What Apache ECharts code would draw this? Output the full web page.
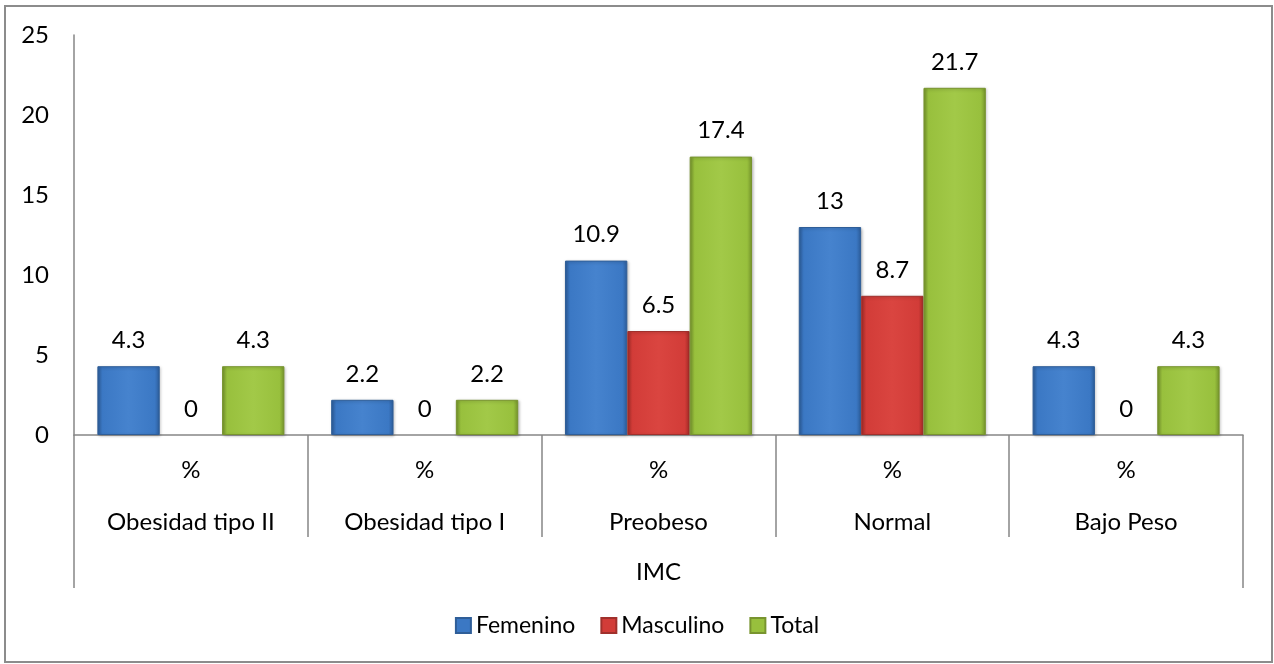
<!DOCTYPE html>
<html>
<head>
<meta charset="utf-8">
<script src="https://cdn.jsdelivr.net/npm/echarts@6/dist/echarts.min.js"></script>
<style>
html,body{margin:0;padding:0;background:#fff;}
#c{width:1274px;height:664px;}
</style>
</head>
<body>
<div id="c"></div>
<script>
const categories = ['Obesidad tipo II', 'Obesidad tipo I', 'Preobeso', 'Normal', 'Bajo Peso'];
const subLabel = '%';
const groupLabel = 'IMC';
const femenino = [4.3, 2.2, 10.9, 13, 4.3];
const masculino = [0, 0, 6.5, 8.7, 0];
const total = [4.3, 2.2, 17.4, 21.7, 4.3];
const yTicks = [0, 25, 5];

const FONT = 'Lato';
const FS = 24;
const AX = '#868686';

function grad(dark, mid, light) {
  return new echarts.graphic.LinearGradient(0, 0, 1, 0, [
    {offset: 0, color: dark},
    {offset: 0.08, color: mid},
    {offset: 0.5, color: light},
    {offset: 0.92, color: mid},
    {offset: 1, color: dark}
  ]);
}
const cols = [
  {dark: '#2D5E9C', mid: '#3B78C4', light: '#4683CE', border: '#2F5E98'},
  {dark: '#A52B28', mid: '#D23C38', light: '#DA4540', border: '#A0302C'},
  {dark: '#76952C', mid: '#98C03D', light: '#A2C948', border: '#78942F'}
];

function mk(name, data, c) {
  return {
    name: name, type: 'bar', barGap: '0%', barCategoryGap: '20%',
    data: data.map(v => v === 0
      ? {value: v, itemStyle: {borderWidth: 0, shadowBlur: 0, shadowOffsetX: 0, shadowOffsetY: 0, opacity: 0}}
      : v),
    itemStyle: {color: grad(c.dark, c.mid, c.light), borderColor: c.border, borderWidth: 1,
      shadowColor: 'rgba(0,0,0,0.25)', shadowBlur: 3, shadowOffsetX: 1, shadowOffsetY: 1},
    label: {show: true, position: 'top', distance: 14, color: '#000', fontFamily: FONT, fontSize: FS, opacity: 1}
  };
}

const chart = echarts.init(document.getElementById('c'));
chart.setOption({
  animation: false,
  textStyle: {fontFamily: FONT},
  grid: {left: 74, right: 31, top: 35, bottom: 229, containLabel: false},
  legend: {
    bottom: 22, left: 'center', itemWidth: 15, itemHeight: 15, itemGap: 25,
    textStyle: {fontFamily: FONT, fontSize: 23, color: '#000'},
    data: [
      {name: 'Femenino', icon: 'rect', itemStyle: {color: '#3B78C4', opacity: 1}},
      {name: 'Masculino', icon: 'rect', itemStyle: {color: '#D23C38', opacity: 1}},
      {name: 'Total', icon: 'rect', itemStyle: {color: '#98C03D', opacity: 1}}
    ]
  },
  xAxis: [
    {type: 'category', data: categories, position: 'bottom',
      axisLine: {show: true, lineStyle: {color: AX, width: 1.5}},
      axisTick: {show: true, interval: 0, length: 102, lineStyle: {color: AX, width: 1.5}},
      axisLabel: {interval: 0, formatter: () => subLabel, margin: 23, color: '#000', fontFamily: FONT, fontSize: FS},
      splitLine: {show: false}},
    {type: 'category', data: categories, position: 'bottom', offset: 0,
      axisLine: {show: false}, axisTick: {show: false},
      axisLabel: {interval: 0, margin: 75, color: '#000', fontFamily: FONT, fontSize: FS}},
    {type: 'category', data: [groupLabel], position: 'bottom', offset: 0,
      axisLine: {show: false},
      axisTick: {show: true, interval: 0, length: 153, lineStyle: {color: AX, width: 1.5}},
      axisLabel: {interval: 0, margin: 125, color: '#000', fontFamily: FONT, fontSize: FS}}
  ],
  yAxis: {
    type: 'value', min: yTicks[0], max: yTicks[1], interval: yTicks[2],
    axisLine: {show: true, lineStyle: {color: AX, width: 1.5}},
    axisTick: {show: false}, splitLine: {show: false},
    axisLabel: {margin: 25, color: '#000', fontFamily: FONT, fontSize: FS}
  },
  graphic: [{type: 'rect', shape: {x: 5, y: 6, width: 1267, height: 656},
    style: {fill: 'none', stroke: '#8C8C8C', lineWidth: 2}, silent: true, z: -1}],
  series: [
    mk('Femenino', femenino, cols[0]),
    mk('Masculino', masculino, cols[1]),
    mk('Total', total, cols[2])
  ]
});
</script>
</body>
</html>
